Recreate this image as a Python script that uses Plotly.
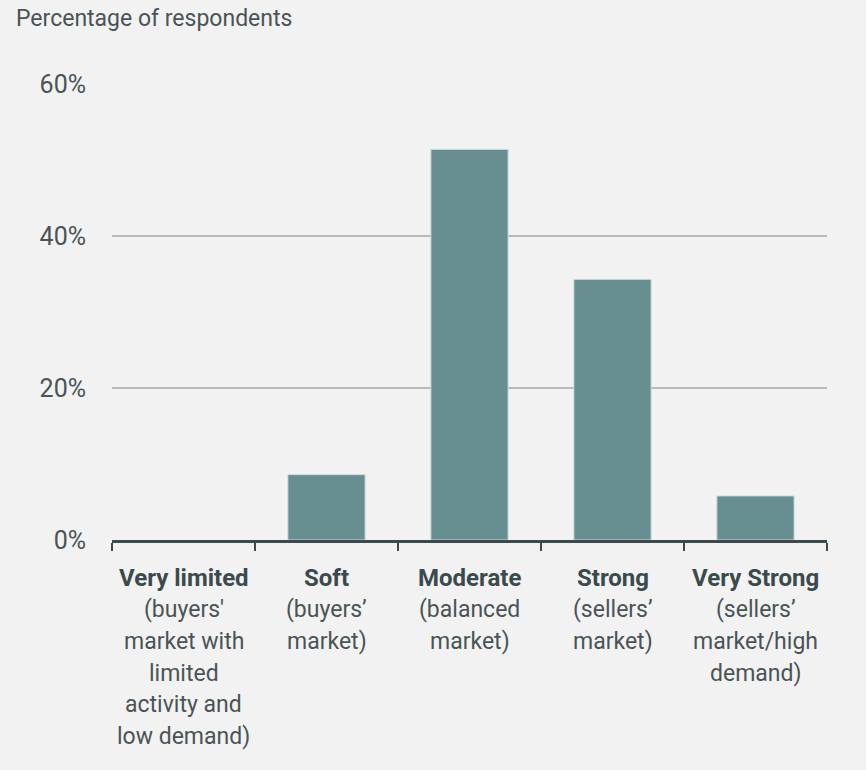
import plotly.graph_objects as go

# Survey results: perceived market strength
categories = ["Very limited", "Soft", "Moderate", "Strong", "Very Strong"]
descriptions = [
    ["(buyers'", "market with", "limited", "activity and", "low demand)"],
    ["(buyers’", "market)"],
    ["(balanced", "market)"],
    ["(sellers’", "market)"],
    ["(sellers’", "market/high", "demand)"],
]
shares = [0.0, 8.6, 51.4, 34.3, 5.8]
y_ticks = [0, 20, 40, 60]
y_tick_text = ["0%", "20%", "40%", "60%"]

BG = "#f2f2f2"
BAR = "#678e91"
DARK = "#3b4a4c"
TEXT = "#4a5456"
FONT = "Roboto"

# no outline on empty bars so nothing shows on the baseline
outline_widths = [1 if v > 0 else 0 for v in shares]

fig = go.Figure(
    go.Bar(
        x=categories,
        y=shares,
        marker=dict(color=BAR, line=dict(color="#d3dbdb", width=outline_widths)),
        hoverinfo="skip",
    )
)

# Category labels: bold name followed by a wrapped description
annotations = []
line_gap = 31.8
for cat, desc in zip(categories, descriptions):
    lines = [f"<b>{cat}</b>"] + desc
    for i, line in enumerate(lines):
        annotations.append(
            dict(
                x=cat, xref="x", y=0, yref="paper",
                yanchor="middle", xanchor="center",
                yshift=-(37.7 + i * line_gap),
                text=line, showarrow=False,
                font=dict(family=FONT, size=24 if i == 0 else 23,
                          color=DARK if i == 0 else TEXT),
            )
        )

fig.update_layout(
    width=866,
    height=770,
    paper_bgcolor=BG,
    plot_bgcolor=BG,
    margin=dict(l=112, r=39, t=84, b=230),
    bargap=0.46,
    showlegend=False,
    title=dict(
        text="Percentage of respondents",
        x=16 / 866, xanchor="left", xref="container",
        y=1 - 18 / 770, yanchor="middle", yref="container",
        font=dict(family=FONT, size=23, color=TEXT),
    ),
    annotations=annotations,
)

fig.update_xaxes(
    showticklabels=False,
    showgrid=False,
    showline=True,
    linecolor=DARK,
    linewidth=2.5,
    ticks="outside",
    tickson="boundaries",
    ticklen=8,
    tickwidth=2,
    tickcolor=DARK,
)

fig.update_yaxes(
    range=[0, 60],
    tickvals=y_ticks,
    ticktext=y_tick_text,
    showgrid=True,
    gridcolor="#b9b9b9",
    gridwidth=2,
    zeroline=False,
    showline=False,
    ticks="",
    ticklabelstandoff=25,
    tickfont=dict(family=FONT, size=25, color=TEXT),
)

fig.write_html("out.html")
